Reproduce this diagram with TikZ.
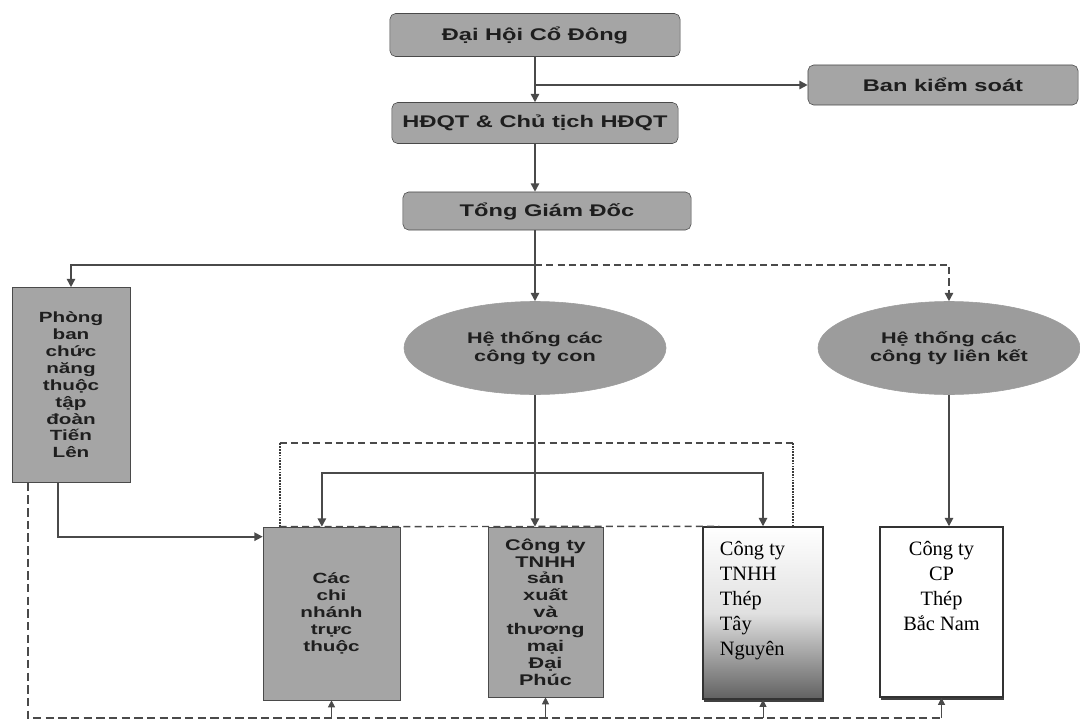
\documentclass[tikz,border=0pt]{standalone}
\usepackage{fontspec}
\setmainfont{Liberation Serif}
\newfontfamily\boxfont[FakeStretch=1.4]{Liberation Sans}
\usetikzlibrary{arrows.meta,shapes.geometric,shadows}
\definecolor{hop}{HTML}{A5A5A5}
\definecolor{elip}{HTML}{9C9C9C}
\definecolor{vien}{HTML}{4A4A4A}
\definecolor{chu}{HTML}{1E1E1E}
\tikzset{
  hopxam/.style={draw=vien,fill=hop,text=chu,inner sep=0pt,align=center,
    font=\boxfont\bfseries\fontsize{10.5}{12}\selectfont},
  hoptren/.style={hopxam,rounded corners=4pt,font=\boxfont\bfseries\fontsize{12}{14}\selectfont},
  elipxam/.style={ellipse,draw=elip,fill=elip,text=chu,inner sep=0pt,align=center,
    minimum width=6.55cm,minimum height=2.325cm,font=\boxfont\bfseries\fontsize{11}{13}\selectfont},
  hoptrang/.style={draw=black!80,line width=1pt,inner sep=0pt,text=black,
    font=\fontsize{14.5}{17.8}\selectfont,
    general shadow={fill=black!75,shadow yshift=-2pt,shadow xshift=0.5pt}},
  noi/.style={draw=vien,line width=1.2pt,-{Triangle[length=6pt,width=6pt]}},
  net/.style={draw=vien,line width=1pt,dash pattern=on 5pt off 3pt},
  chamday/.style={draw=vien!80!black,line width=1.5pt,dash pattern=on 1.2pt off 0.8pt}
}
\begin{document}
\begin{tikzpicture}[x=0.025cm,y=-0.025cm]
        \useasboundingbox (0,0) rectangle (1080,723);
        %Các cấp trên
        \node[hoptren,minimum width=7.25cm,minimum height=1.075cm] (dhcd) at (535,35) {Đại Hội Cổ Đông};
        \node[hoptren,minimum width=6.75cm,minimum height=1cm] (bks) at (943,85) {Ban kiểm soát};
        \node[hoptren,minimum width=7.15cm,minimum height=1.025cm] (hdqt) at (535,123) {HĐQT \& Chủ tịch HĐQT};
        \node[hoptren,minimum width=7.2cm,minimum height=0.95cm] (tgd) at (547,211) {Tổng Giám Đốc};
        %Khối giữa
        \node[hopxam,minimum width=2.95cm,minimum height=4.875cm] (pb) at (71,385)
            {Phòng\\ban\\chức\\năng\\thuộc\\tập\\đoàn\\Tiến\\Lên};
        \node[elipxam] (htcon) at (535,348) {Hệ thống các\\công ty con};
        \node[elipxam] (htlk) at (949,348) {Hệ thống các\\công ty liên kết};
        %Các công ty
        \node[hopxam,minimum width=3.425cm,minimum height=4.325cm] (ccn) at (331.5,613.5)
            {Các\\chi\\nhánh\\trực\\thuộc};
        \node[hopxam,minimum width=2.875cm,minimum height=4.25cm,font=\boxfont\bfseries\fontsize{11}{12}\selectfont] (dp) at (545.5,612)
            {Công ty\\TNHH\\sản\\xuất\\và\\thương\\mại\\Đại\\Phúc};
        \node[hoptrang,minimum width=3cm,top color=white,bottom color=black!62,middle color=black!12] (tn) at (763,613)
            {\parbox[c][4.3cm][t]{2.15cm}{\vspace{10pt}\raggedright Công ty\\TNHH\\Thép\\Tây\\Nguyên}};
        \node[hoptrang,minimum width=3.075cm,fill=white] (bn) at (941.5,612)
            {\parbox[c][4.25cm][t]{2.6cm}{\vspace{10pt}\centering Công ty\\CP\\Thép\\Bắc Nam}};
        %Đường nối trên
        \draw[noi] (dhcd) -- (hdqt);
        \draw[noi] (dhcd.south |- bks.west) -- (bks);
        \draw[noi] (hdqt.south) -- (hdqt.south |- tgd.north);
        \draw[noi] (tgd.south -| htcon) -- (htcon);
        \coordinate (bus) at (535,265);
        \draw[noi] (bus) -| (pb.north);
        \draw[noi,dash pattern=on 5pt off 3pt] (bus) -| (htlk);
        \draw[noi] (htcon.south) -- (htcon.south |- dp.north);
        \draw[noi] (htlk.south) -- (htlk.south |- bn.north);
        %Đường nối dưới
        \coordinate (thanh) at (535,473);
        \draw[noi] (thanh) -| ([xshift=-0.24cm]ccn.north);
        \draw[noi] (thanh) -| (tn.north);
        \draw[noi] ([xshift=-0.325cm]pb.south) |- ([yshift=-0.25cm]ccn.north west);
        %Khung nét đứt
        \coordinate (khung) at (535,443);
        \coordinate (kl) at ([xshift=0.425cm]ccn.north west);
        \coordinate (kr) at ([xshift=-0.775cm]tn.north east);
        \draw[net] (kl |- khung) -- (kr |- khung);
        \draw[chamday] (kl) -- (kl |- khung) (kr) -- (kr |- khung);
        \draw[net] (kl) -- ([xshift=0.425cm]tn.north west);
        %Đường đáy
        \coordinate (day) at (535,718);
        \draw[net,line width=1.2pt,dash pattern=on 6pt off 3pt] ([xshift=0.4cm]pb.south west) |- (bn.south |- day);
        \foreach \o in {ccn,dp,tn,bn}
            \draw[noi,line width=0.6pt,-{Triangle[length=5pt,width=5pt]}] (\o.south |- day) -- (\o.south);
\end{tikzpicture}
\end{document}
